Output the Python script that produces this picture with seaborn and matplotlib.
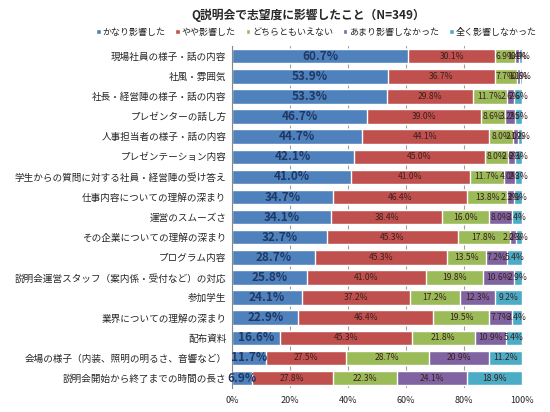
import numpy as np
import pandas as pd
import matplotlib
matplotlib.use("Agg")
import matplotlib.pyplot as plt
import seaborn as sns
from matplotlib.patches import Patch

sns.set_style("white")
plt.rcParams['font.family'] = ['Noto Sans CJK JP', 'DejaVu Sans']

# data
items = [
    "現場社員の様子・話の内容", "社風・雰囲気", "社長・経営陣の様子・話の内容",
    "プレゼンターの話し方", "人事担当者の様子・話の内容", "プレゼンテーション内容",
    "学生からの質問に対する社員・経営陣の受け答え", "仕事内容についての理解の深まり",
    "運営のスムーズさ", "その企業についての理解の深まり", "プログラム内容",
    "説明会運営スタッフ（案内係・受付など）の対応", "参加学生", "業界についての理解の深まり",
    "配布資料", "会場の様子（内装、照明の明るさ、音響など）", "説明会開始から終了までの時間の長さ",
]
series = ["かなり影響した", "やや影響した", "どちらともいえない", "あまり影響しなかった", "全く影響しなかった"]
kanari = [60.7, 53.9, 53.3, 46.7, 44.7, 42.1, 41.0, 34.7, 34.1, 32.7, 28.7, 25.8, 24.1, 22.9, 16.6, 11.7, 6.9]
yaya = [30.1, 36.7, 29.8, 39.0, 44.1, 45.0, 41.0, 46.4, 38.4, 45.3, 45.3, 41.0, 37.2, 46.4, 45.3, 27.5, 27.8]
dochira = [6.9, 7.7, 11.7, 8.6, 8.0, 8.0, 11.7, 13.8, 16.0, 17.8, 13.5, 19.8, 17.2, 19.5, 21.8, 28.7, 22.3]
amari = [1.4, 1.1, 2.6, 3.2, 2.0, 2.6, 4.0, 2.3, 8.0, 2.0, 7.2, 10.6, 12.3, 7.7, 10.9, 20.9, 24.1]
mattaku = [0.9, 0.6, 2.6, 2.5, 1.2, 2.3, 2.3, 2.9, 3.4, 2.3, 5.4, 2.9, 9.2, 3.4, 5.4, 11.2, 18.9]

colors = ["#4F81BD", "#C0504D", "#9BBB59", "#8064A2", "#4BACC6"]

df = pd.DataFrame({"item": items, series[0]: kanari, series[1]: yaya,
                   series[2]: dochira, series[3]: amari, series[4]: mattaku})
cum = df[series].cumsum(axis=1)

fig = plt.figure(figsize=(5.5, 4.12), dpi=100)
ax = fig.add_axes([0.422, 0.058, 0.527, 0.83])

# draw from the longest cumulative bar to the shortest so each segment shows
for i in range(len(series) - 1, -1, -1):
    sns.barplot(x=cum[series[i]], y=df["item"], color=colors[i], orient="h",
                width=0.72, edgecolor="white", linewidth=1.0, ax=ax, saturation=1)

# value labels
for r in range(len(items)):
    left = 0
    for i, s in enumerate(series):
        v = df[s][r]
        xc = left + v / 2
        if i == 0:
            ax.text(xc, r, f"{v:.1f}%", ha="center", va="center", fontsize=8.5,
                    fontweight="bold", color="#1F3864")
        else:
            ax.text(xc, r, f"{v:.1f}%", ha="center", va="center", fontsize=6.2,
                    color="#3a2020")
        left += v

ax.set_xlim(0, 100)
ax.set_xticks(np.arange(0, 101, 20))
ax.set_xticklabels([f"{t}%" for t in range(0, 101, 20)], fontsize=6.5)
ax.set_xlabel("")
ax.set_ylabel("")
ax.tick_params(axis="y", labelsize=6.9, length=0, pad=4)
ax.tick_params(axis="x", length=0, pad=6)
ax.xaxis.grid(True, color="#a0a0a0", linewidth=0.8)
ax.set_axisbelow(True)
for sp in ["top", "right", "bottom"]:
    ax.spines[sp].set_visible(False)
ax.spines["left"].set_color("#888888")

fig.text(0.56, 0.962, "Q説明会で志望度に影響したこと（N=349）", ha="center", va="center",
         fontsize=8.5, fontweight="bold")
handles = [Patch(facecolor=c, label=s) for c, s in zip(colors, series)]
fig.legend(handles=handles, loc="center", bbox_to_anchor=(0.575, 0.922), ncol=5,
           frameon=False, fontsize=6.5, handlelength=0.5, handleheight=0.5,
           handletextpad=0.2, columnspacing=1.1, borderaxespad=0, borderpad=0)

fig.savefig("out.png", dpi=100)
